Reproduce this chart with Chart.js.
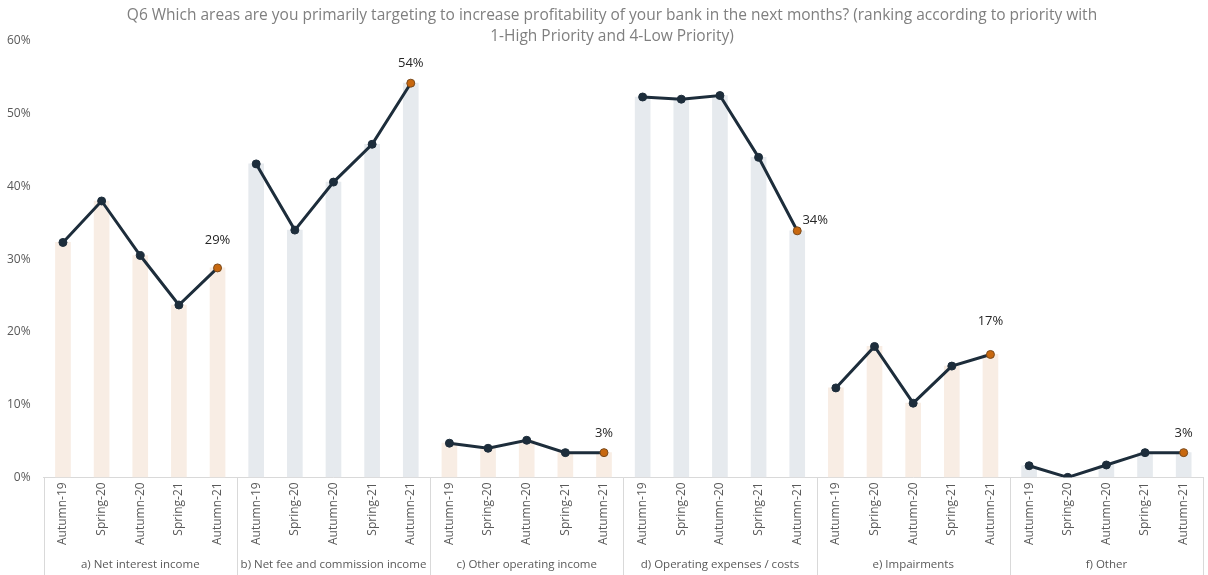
<!DOCTYPE html>
<html>
<head>
<meta charset="utf-8">
<script src="https://cdn.jsdelivr.net/npm/chart.js@4/dist/chart.umd.min.js"></script>
<style>
  html, body { margin: 0; padding: 0; background: #ffffff; }
  #wrap { width: 1208px; height: 575px; position: relative; }
</style>
</head>
<body>
<div id="wrap"><canvas id="chart"></canvas></div>
<script>
// Survey periods (repeated per area)
const periods = ['Autumn-19', 'Spring-20', 'Autumn-20', 'Spring-21', 'Autumn-21'];

// Areas
const areas = [
  'a) Net interest income',
  'b) Net fee and commission income',
  'c) Other operating income',
  'd) Operating expenses / costs',
  'e) Impairments',
  'f) Other'
];

// Share of banks (%) per area, one value per period
const netInterestIncome = [32.3, 38.0, 30.5, 23.7, 28.8];
const netFeeCommission = [43.1, 34.0, 40.6, 45.8, 54.2];
const otherOperatingIncome = [4.7, 4.0, 5.1, 3.4, 3.4];
const operatingExpenses = [52.3, 52.0, 52.5, 44.0, 33.9];
const impairments = [12.3, 18.0, 10.2, 15.3, 16.9];
const other = [1.6, 0.0, 1.7, 3.4, 3.4];

const yTicks = [0, 10, 20, 30, 40, 50, 60];

const titleLines = [
  'Q6 Which areas are you primarily targeting to increase profitability of your bank in the next months? (ranking according to priority with',
  '1-High Priority and 4-Low Priority)'
];

const series = [netInterestIncome, netFeeCommission, otherOperatingIncome, operatingExpenses, impairments, other];

const BEIGE = '#f8ede4';
const GREY = '#e6eaee';
const NAVY = '#1d2d3b';
const ORANGE = '#c8680f';
const FONT = "'Open Sans', sans-serif";

const labels = [];
const barValues = [];
const barColors = [];
series.forEach(function(vals, g) {
  vals.forEach(function(v, i) {
    labels.push(periods[i]);
    barValues.push(v);
    barColors.push(g % 2 === 0 ? BEIGE : GREY);
  });
});

// one line dataset per area so segments do not connect across areas
const lineSets = series.map(function(vals, g) {
  const data = labels.map(function() { return null; });
  vals.forEach(function(v, i) { data[g * periods.length + i] = v; });
  const last = g * periods.length + periods.length - 1;
  return {
    type: 'line',
    data: data,
    borderColor: NAVY,
    borderWidth: 3,
    pointRadius: 4,
    pointHoverRadius: 4,
    pointBorderWidth: 1,
    pointBackgroundColor: data.map(function(_, k) { return k === last ? ORANGE : NAVY; }),
    pointBorderColor: data.map(function(_, k) { return k === last ? '#7a4a1c' : NAVY; }),
    spanGaps: false,
    order: 0,
    lastIndex: last
  };
});

// label offsets for last-point value labels
const labelOffsets = [[0, -28], [0, -20], [0, -19], [18, -11], [0, -33], [0, -19]];

const extrasPlugin = {
  id: 'extras',
  afterDraw: function(chart) {
    const ctx = chart.ctx;
    const xs = chart.scales.x;
    const area = chart.chartArea;
    ctx.save();

    // title
    ctx.fillStyle = '#7f7f7f';
    ctx.font = '15.5px ' + FONT;
    ctx.textAlign = 'center';
    ctx.textBaseline = 'middle';
    ctx.fillText(titleLines[0], 612, 16);
    ctx.fillText(titleLines[1], 612, 37);

    // group separators and labels
    const n = periods.length;
    const step = xs.getPixelForValue(1) - xs.getPixelForValue(0);
    ctx.strokeStyle = '#d9d9d9';
    ctx.lineWidth = 1;
    for (let g = 0; g <= areas.length; g++) {
      const x = Math.round(xs.getPixelForValue(g * n) - step / 2) + 0.5;
      ctx.beginPath();
      ctx.moveTo(x, area.bottom);
      ctx.lineTo(x, chart.height);
      ctx.stroke();
    }
    ctx.fillStyle = '#595959';
    ctx.font = '11.5px ' + FONT;
    areas.forEach(function(name, g) {
      const x0 = xs.getPixelForValue(g * n) - step / 2;
      const x1 = xs.getPixelForValue(g * n + n - 1) + step / 2;
      ctx.fillText(name, (x0 + x1) / 2, 565);
    });

    // value labels on last points
    ctx.fillStyle = '#262626';
    ctx.font = '13px ' + FONT;
    lineSets.forEach(function(ds, g) {
      const meta = chart.getDatasetMeta(g + 1);
      const pt = meta.data[ds.lastIndex];
      const v = ds.data[ds.lastIndex];
      ctx.fillText(Math.round(v) + '%', pt.x + labelOffsets[g][0], pt.y + labelOffsets[g][1]);
    });
    ctx.restore();
  }
};

new Chart(document.getElementById('chart'), {
  type: 'bar',
  data: {
    labels: labels,
    datasets: [{
      type: 'bar',
      data: barValues,
      backgroundColor: barColors,
      barThickness: 15,
      order: 1
    }].concat(lineSets)
  },
  options: {
    responsive: true,
    maintainAspectRatio: false,
    animation: false,
    layout: { padding: { top: 41, right: 2, bottom: 25, left: 2 } },
    plugins: {
      legend: { display: false },
      tooltip: { enabled: false },
      title: { display: false }
    },
    scales: {
      x: {
        grid: { display: false, drawTicks: false },
        border: { color: '#d9d9d9', width: 1 },
        ticks: {
          color: '#595959',
          font: { family: FONT, size: 12 },
          minRotation: 90,
          maxRotation: 90,
          autoSkip: false,
          padding: 5
        }
      },
      y: {
        min: yTicks[0],
        max: yTicks[yTicks.length - 1],
        afterBuildTicks: function(axis) {
          axis.ticks = yTicks.map(function(v) { return { value: v }; });
        },
        grid: { display: false },
        border: { display: false },
        ticks: {
          color: '#595959',
          font: { family: FONT, size: 12 },
          padding: 5,
          callback: function(v) { return v + '%'; }
        }
      }
    }
  },
  plugins: [extrasPlugin]
});
</script>
</body>
</html>
